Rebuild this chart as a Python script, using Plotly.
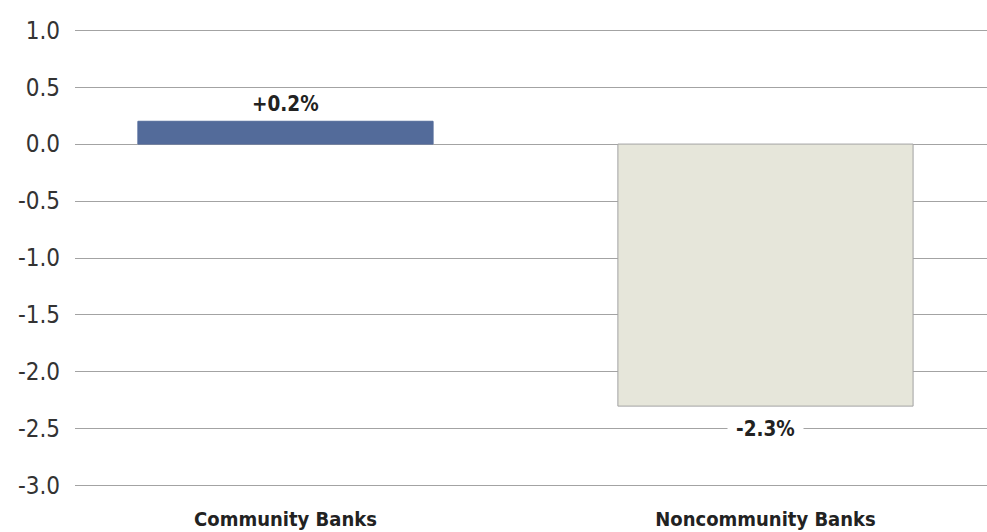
import plotly.graph_objects as go

categories = ["Community Banks", "Noncommunity Banks"]
values = [0.2, -2.3]
labels = ["+0.2%", "-2.3%"]
bar_colors = ["#536b9a", "#e6e6da"]
bar_lines = ["#536b9a", "#a3a3a3"]
y_ticks = [1.0, 0.5, 0.0, -0.5, -1.0, -1.5, -2.0, -2.5, -3.0]

FONT = "DejaVu Sans Condensed, sans-serif"

fig = go.Figure()
fig.add_trace(go.Bar(
    x=categories, y=values,
    marker=dict(color=bar_colors, line=dict(color=bar_lines, width=1)),
    width=0.615,
    hoverinfo="skip",
))

for c, v, t in zip(categories, values, labels):
    fig.add_annotation(
        x=c, y=v, text=t, showarrow=False,
        yshift=17 if v >= 0 else -23,
        font=dict(family=FONT, size=20.5, color="#222222", weight="bold"),
        bgcolor="white", borderpad=1 if v >= 0 else 8,
    )

fig.update_layout(
    width=987, height=532,
    margin=dict(l=75, r=0, t=29, b=45),
    paper_bgcolor="white", plot_bgcolor="white",
    showlegend=False,
    xaxis=dict(
        range=[-0.4385, 1.4615],
        showgrid=False, zeroline=False, showline=False,
        ticks="", ticklabelstandoff=18,
        tickfont=dict(family=FONT, size=20, color="#222222", weight="bold"),
    ),
    yaxis=dict(
        range=[-3.01, 1.01],
        tickvals=y_ticks, ticktext=[f"{v:.1f}" for v in y_ticks],
        showgrid=True, gridcolor="#a3a3a3", gridwidth=1.3,
        zeroline=False, showline=False, ticks="",
        ticklabelstandoff=14,
        tickfont=dict(family=FONT, size=24, color="#333333"),
    ),
)

fig.write_html("out.html")
